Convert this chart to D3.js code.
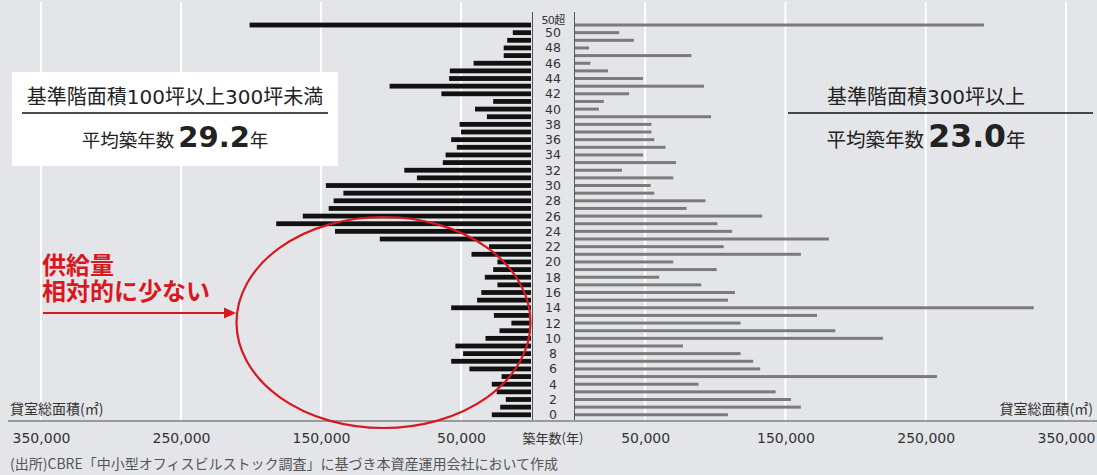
<!DOCTYPE html>
<html>
<head>
<meta charset="utf-8">
<script src="https://d3js.org/d3.v7.min.js"></script>
<style type="text/css">
  body { margin: 0; background: #e3e5e8; }
  svg { display: block; }
  .num { font-family: "DejaVu Sans", "Noto Sans CJK JP", sans-serif; }
  .jp { font-family: "Noto Sans CJK JP", sans-serif; }
</style>
</head>
<body>
<script type="text/javascript">

// building age (years), bottom to top
var ages = ["0","1","2","3","4","5","6","7","8","9",
            "10","11","12","13","14","15","16","17","18","19",
            "20","21","22","23","24","25","26","27","28","29",
            "30","31","32","33","34","35","36","37","38","39",
            "40","41","42","43","44","45","46","47","48","49",
            "50","50超"];

// 基準階面積100坪以上300坪未満 (left, m2)
var smallArea = [28000,22000,18000,24500,28000,21000,44000,57000,48500,54000,
                 32500,22500,14000,26500,57000,38500,35500,24000,33000,27000,
                 24000,42500,30000,108000,140000,182000,163000,144500,141000,134000,
                 146500,81500,90500,63000,61000,53000,57000,50000,51000,31500,
                 40000,27000,64000,101000,58500,58000,41000,19500,19500,17000,
                 13000,201000];

// 基準階面積300坪以上 (right, m2)
var largeArea = [109000,161000,154000,143000,88000,258000,132000,127000,118000,77000,
                 219500,185500,118000,172500,327000,109000,114000,90000,60000,101000,
                 70000,161000,106000,181000,112000,101500,133500,79500,93000,56500,
                 54000,70000,33500,72000,48500,64500,56500,54500,54500,97000,
                 17000,20500,38500,92000,48500,23500,11000,83000,10000,42000,
                 31500,291500];

var xTicks = [50000, 150000, 250000, 350000];

var width = 1097, height = 475;

var svg = d3.select("body").append("svg")
    .attr("width", width)
    .attr("height", height);

svg.append("rect")
    .attr("width", width).attr("height", height)
    .attr("fill", "#e3e5e8");

var xL = d3.scaleLinear().domain([0, 350000]).range([531, 41]);
var xR = d3.scaleLinear().domain([0, 350000]).range([575, 1066]);
var y = d3.scaleBand().domain(ages).range([418.6, 21.2]);
var bw = y.bandwidth();

// white gridlines
xTicks.forEach(function(t) {
  [xL(t), xR(t)].forEach(function(x) {
    svg.append("line")
      .attr("x1", x).attr("x2", x)
      .attr("y1", 2).attr("y2", 420)
      .attr("stroke", "#fff")
      .attr("stroke-width", 2);
  });
});

// left info box
svg.append("rect")
    .attr("x", 12).attr("y", 72)
    .attr("width", 326).attr("height", 94)
    .attr("fill", "#fff");

// bars
svg.selectAll(".barL")
    .data(ages)
  .enter().append("rect")
    .attr("class", "barL")
    .attr("x", function(d, i) { return xL(smallArea[i]); })
    .attr("y", function(d) { return y(d) + bw / 2 - 2.4; })
    .attr("width", function(d, i) { return xL(0) - xL(smallArea[i]); })
    .attr("height", 4.8)
    .attr("fill", "#111");

svg.selectAll(".barR")
    .data(ages)
  .enter().append("rect")
    .attr("class", "barR")
    .attr("x", xR(0))
    .attr("y", function(d) { return y(d) + bw / 2 - 1.5; })
    .attr("width", function(d, i) { return xR(largeArea[i]) - xR(0); })
    .attr("height", 3)
    .attr("fill", "#7b7b7b");

// centre axis lines + baseline
[532.5, 574.5].forEach(function(x) {
  svg.append("line")
    .attr("x1", x).attr("x2", x)
    .attr("y1", 12).attr("y2", 420)
    .attr("stroke", "#555").attr("stroke-width", 1);
});
svg.append("line")
    .attr("x1", 8).attr("x2", width)
    .attr("y1", 421).attr("y2", 421)
    .attr("stroke", "#9a9a9a").attr("stroke-width", 2);

// age labels (even years + 50超)
svg.selectAll(".age")
    .data(ages.filter(function(d, i) { return i % 2 == 0 || d == "50超"; }))
  .enter().append("text")
    .attr("class", "age num")
    .attr("x", 553)
    .attr("y", function(d) { return d == "50超" ? y(d) + bw / 2 - 1.5 : y(d) + bw / 2 + 4.5; })
    .attr("text-anchor", "middle")
    .attr("font-size", function(d) { return d == "50超" ? 11 : 12.5; })
    .attr("letter-spacing", function(d) { return d == "50超" ? -0.6 : 0; })
    .attr("fill", "#333")
    .text(function(d) { return d; });

// x axes
function styleAxis(g) {
  g.select(".domain").remove();
  g.selectAll("text")
    .attr("class", "num")
    .attr("font-size", 14)
    .attr("fill", "#333");
}
svg.append("g")
    .attr("transform", "translate(0,433)")
    .call(d3.axisBottom(xL).tickValues(xTicks).tickFormat(d3.format(",")).tickSize(0).tickPadding(0))
    .call(styleAxis);
svg.append("g")
    .attr("transform", "translate(0,433)")
    .call(d3.axisBottom(xR).tickValues(xTicks).tickFormat(d3.format(",")).tickSize(0).tickPadding(0))
    .call(styleAxis);

svg.append("text")
    .attr("class", "jp")
    .attr("x", 553).attr("y", 443)
    .attr("text-anchor", "middle")
    .attr("font-size", 13).attr("fill", "#333")
    .text("築年数(年)");

svg.append("text")
    .attr("class", "jp")
    .attr("x", 10).attr("y", 414)
    .attr("font-size", 14).attr("fill", "#333")
    .text("貸室総面積(㎡)");
svg.append("text")
    .attr("class", "jp")
    .attr("x", 1093).attr("y", 414)
    .attr("text-anchor", "end")
    .attr("font-size", 14).attr("fill", "#333")
    .text("貸室総面積(㎡)");

// titles
function title(cx, x1, x2, label, avg, s1, s2) {
  svg.append("text")
    .attr("class", "num")
    .attr("x", cx).attr("y", 104)
    .attr("text-anchor", "middle")
    .attr("font-size", 20).attr("fill", "#222")
    .text(label);
  svg.append("line")
    .attr("x1", x1).attr("x2", x2)
    .attr("y1", 113).attr("y2", 113)
    .attr("stroke", "#111").attr("stroke-width", 1.6);
  var t = svg.append("text")
    .attr("x", cx).attr("y", 147)
    .attr("text-anchor", "middle")
    .attr("fill", "#222");
  t.append("tspan").attr("class", "jp").attr("font-size", s1).text("平均築年数 ");
  t.append("tspan").attr("class", "num").attr("font-size", s2).attr("font-weight", "bold").text(avg);
  t.append("tspan").attr("class", "jp").attr("font-size", s1).text("年");
}
title(175, 22, 328, "基準階面積100坪以上300坪未満", "29.2", 18.5, 29);
title(926, 788, 1093, "基準階面積300坪以上", "23.0", 19.5, 31.5);

// annotation
var red = "#d7191f";
var note = svg.append("text")
    .attr("class", "jp")
    .attr("x", 42).attr("y", 274)
    .attr("font-size", 24).attr("font-weight", "bold").attr("fill", red);
note.append("tspan").attr("x", 42).text("供給量");
note.append("tspan").attr("x", 42).attr("dy", 26).text("相対的に少ない");

svg.append("line")
    .attr("x1", 43).attr("x2", 226)
    .attr("y1", 313).attr("y2", 313)
    .attr("stroke", red).attr("stroke-width", 2);
svg.append("path")
    .attr("d", "M236,313L224,307.5L224,318.5Z")
    .attr("fill", red);
svg.append("ellipse")
    .attr("cx", 383.5).attr("cy", 322.5)
    .attr("rx", 147).attr("ry", 105.5)
    .attr("fill", "none")
    .attr("stroke", red).attr("stroke-width", 2.2);

// source
svg.append("text")
    .attr("class", "jp")
    .attr("x", 10).attr("y", 469)
    .attr("font-size", 14).attr("fill", "#555")
    .text("(出所)CBRE「中小型オフィスビルストック調査」に基づき本資産運用会社において作成");

</script>
</body>
</html>
